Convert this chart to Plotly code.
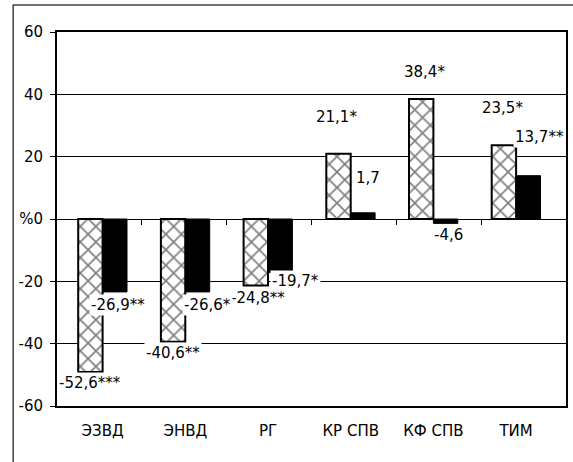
import plotly.graph_objects as go

categories = ["ЭЗВД", "ЭНВД", "РГ", "КР СПВ", "КФ СПВ", "ТИМ"]
hatched_values = [-49.1, -39.4, -21.3, 20.9, 38.5, 23.7]
black_values = [-23.4, -23.4, -17.2, 2.0, -1.4, 13.9]

hatched_labels = ["-52,6***", "-40,6**", "-24,8**", "21,1*", "38,4*", "23,5*"]
black_labels = ["-26,9**", "-26,6*", "-19,7*", "1,7", "-4,6", "13,7**"]

# label placement (y in data units, x offset in px from category centre)
hatched_label_y = [-52.6, -43.0, -25.3, 32.7, 47.2, 35.6]
hatched_label_dx = [-12.6, -12.8, -10, -14.2, -9, -14]
black_label_y = [-27.6, -27.6, -20.0, 13.2, -5.1, 26.3]
black_label_dx = [15.4, 21.7, 27, 16.8, 14.6, 23.4]

y_ticks = [-60, -40, -20, 0, 20, 40, 60]
y_ticktext = ["-60", "-40", "-20", "%0", "20", "40", "60"]

FONT = "DejaVu Sans, Liberation Sans, Arial, sans-serif"
FS = 15

fig = go.Figure()
fig.add_trace(go.Bar(
    x=categories, y=hatched_values,
    marker=dict(color="white",
                line=dict(color="black", width=2),
                pattern=dict(shape="x", fgcolor="black", bgcolor="white",
                             size=11, solidity=0.28)),
    showlegend=False, hoverinfo="skip"))
fig.add_trace(go.Bar(
    x=categories, y=black_values,
    marker=dict(color="black", line=dict(color="black", width=1)),
    showlegend=False, hoverinfo="skip"))
fig.add_trace(go.Scatter(x=[], y=[], xaxis="x2", yaxis="y",
                         showlegend=False, hoverinfo="skip"))

annotations = []
for i, c in enumerate(categories):
    annotations.append(dict(x=c, y=hatched_label_y[i], xref="x", yref="y",
                            text=hatched_labels[i], showarrow=False,
                            xshift=hatched_label_dx[i], bgcolor="white",
                            borderpad=1,
                            font=dict(family=FONT, size=FS, color="black")))
for i, c in enumerate(categories):
    annotations.append(dict(x=c, y=black_label_y[i], xref="x", yref="y",
                            text=black_labels[i], showarrow=False,
                            xshift=black_label_dx[i], bgcolor="white",
                            borderpad=1,
                            font=dict(family=FONT, size=FS, color="black")))

fig.update_layout(
    width=573, height=462,
    margin=dict(l=57, r=5, t=32, b=56),
    paper_bgcolor="white", plot_bgcolor="white",
    barmode="group", bargap=0.41, bargroupgap=0,
    font=dict(family=FONT, size=FS, color="black"),
    annotations=annotations,
    xaxis=dict(type="category", categoryorder="array", categoryarray=categories,
               showline=True, linecolor="black", linewidth=2, mirror=True,
               ticks="", showgrid=False, zeroline=False,
               ticklabelstandoff=10,
               tickfont=dict(family=FONT, size=FS, color="black")),
    xaxis2=dict(overlaying="x", anchor="free", position=0.5, range=[-0.5, 5.5],
                tickmode="array", tickvals=[0.5, 1.5, 2.5, 3.5, 4.5],
                ticks="outside", ticklen=5, tickcolor="black", tickwidth=1,
                showticklabels=False, showline=False, showgrid=False,
                zeroline=False),
    yaxis=dict(range=[-60, 60], tickmode="array", tickvals=y_ticks,
               ticktext=y_ticktext, ticks="outside", ticklen=5,
               tickcolor="black", tickwidth=1,
               showline=True, linecolor="black", linewidth=2, mirror=True,
               showgrid=True, gridcolor="black", gridwidth=1,
               zeroline=True, zerolinecolor="black", zerolinewidth=1,
               ticklabelstandoff=4,
               tickfont=dict(family=FONT, size=FS, color="black")),
    shapes=[dict(type="rect", xref="paper", yref="paper",
                 x0=-0.0861, x1=1.2, y0=-0.3, y1=1.0722,
                 line=dict(color="#444444", width=1.5), layer="below")],
)

fig.write_html("out.html",
               config={"displayModeBar": False},
               post_script="document.body.style.margin='0';document.body.style.overflow='hidden';")
